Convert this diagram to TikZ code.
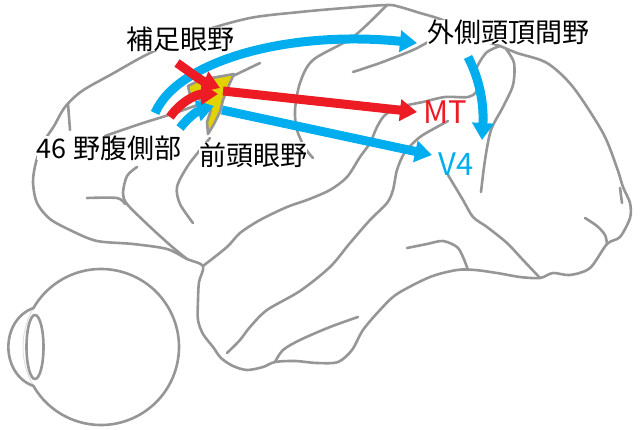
\documentclass[tikz,border=0pt]{standalone}
\usepackage{fontspec}
\setmainfont{Noto Sans CJK JP}
\usetikzlibrary{arrows.meta}
\definecolor{sulcusgray}{RGB}{150, 150, 150}
\definecolor{fiberblue}{RGB}{0, 174, 239}
\definecolor{fiberred}{RGB}{237, 28, 36}
\definecolor{fefyellow}{RGB}{226, 210, 0}
\tikzset{
  outline/.style={sulcusgray, line width=2.6pt, line cap=round, line join=round},
  bluefiber/.style={fiberblue, line width=9pt, -{Triangle[width=21pt, length=17pt]}},
  redfiber/.style={fiberred, line width=9pt, -{Triangle[width=21pt, length=17pt]}},
  area/.style={fill=white, inner sep=0pt, font=\fontsize{27}{32}\selectfont},
  visual/.style={inner sep=0pt, font=\fontsize{31}{36}\selectfont},
}
\begin{document}
\begin{tikzpicture}[x=1pt, y=-1pt]
            \useasboundingbox (0,0) rectangle (640,430);
            % Brain contour
            \draw[outline] plot[smooth cycle] coordinates {
                (500,46) (485,41) (462,29) (440,19) (420,13) (400,7) (387,5) (345,8) (300,12)
                (250,18) (200,32) (150,53) (112,74) (82,91) (65,107) (54,126) (43,143) (36,162)
                (33,182) (37,203) (50,219) (72,231) (97,241) (133,244) (167,249) (187,259)
                (203,266) (199,282) (198,300) (198,320) (203,334) (213,347) (221,358) (233,366)
                (247,370) (263,367) (275,362) (295,361) (317,363) (338,362) (352,350) (363,330)
                (380,310) (397,294) (430,277) (457,270) (475,270) (497,273) (520,277) (540,278)
                (553,273) (570,275) (590,268) (607,244) (620,237) (630,218) (630,203) (623,187)
                (617,168) (603,133) (573,87) (547,63) (517,53)};
            % Sulci
            \draw[outline] plot[smooth] coordinates {(203,266) (227,247) (240,233) (260,220) (287,207)
                (307,200) (330,190) (347,177) (360,157) (370,143) (377,127) (385,115) (400,107)
                (423,102) (445,97) (468,97) (477,90) (475,72) (486,53) (500,46)};
            \draw[outline] plot[smooth] coordinates {(506,49) (514,63) (513,85) (503,107) (491,130)
                (485,160) (481,192)};
            \draw[outline] plot[smooth] coordinates {(227,353) (240,340) (250,327) (267,310) (300,291)
                (330,267) (350,243) (370,220) (387,203) (393,190) (397,170) (405,152) (420,137)
                (437,127) (448,121)};
            \draw[outline] plot[smooth] coordinates {(275,362) (283,350) (300,340) (330,327) (358,317)};
            \draw[outline] plot[smooth] coordinates {(407,248) (427,244) (443,241) (457,247) (463,257) (468,270)};
            \draw[outline] plot[smooth] coordinates {(448,175) (463,200) (473,217) (487,227) (507,243)
                (523,260) (540,278)};
            \draw[outline] plot[smooth] coordinates {(585,218) (597,226) (605,235) (607,244)};
            \draw[outline] (620,188) -- (622,203);
            \draw[outline] plot[smooth] coordinates {(387,5) (353,37) (313,60) (300,83) (295,110)
                (297,130) (305,148) (313,158)};
            \draw[outline] plot[smooth] coordinates {(353,72) (380,63) (413,50) (428,42)};
            \draw[outline] (260,63) -- (233,76);
            \draw[outline] plot[smooth] coordinates {(105,136) (140,124) (175,113) (200,104)};
            \draw[outline] (68,104) -- (70,130);
            \draw[outline] plot[smooth] coordinates {(137,167) (127,176) (123,193) (127,204) (147,224)
                (170,245) (187,259)};
            \draw[outline] plot[smooth] coordinates {(87,198) (117,198) (125,204)};
            \draw[outline] plot[smooth] coordinates {(210,138) (200,150) (187,167) (177,187) (180,204) (193,223)};
            % Frontal eye field
            \filldraw[outline, fill=fefyellow] (188,86) -- (200,80) -- (234,74) -- (229,85) -- (223,100)
                -- (220,112) -- (214,124) -- (208,134) -- (207,122) -- (211,110) -- (200,100) -- (190,95) -- cycle;
            % Eye
            \draw[sulcusgray!30, line width=1pt] (101,347) ++(150:78) arc[start angle=150, end angle=210, radius=78];
            \draw[outline] (101,347) ++(150:78) arc[start angle=150, end angle=-150, radius=78];
            \draw[outline] (33.5,308) .. controls (0,320) and (0,374) .. (33.5,386);
            \draw[outline] (35,347) ellipse[x radius=8.5, y radius=32];
            % Labels
            \node[area]                 (sef)   at (180,39)  {補足眼野};
            \node[area]                 (vlpfc) at (109,148) {46 野腹側部};
            \node[area]                 (fef)   at (253,155) {前頭眼野};
            \node[area]                 (lip)   at (508,32)  {外側頭頂間野};
            \node[visual, fiberred]     (mt)    at (445,112) {MT};
            \node[visual, fiberblue]    (vfour) at (456,164) {V4};
            % Projections
            \coordinate (fefLip) at (155,113);
            \coordinate (lipIn)  at (417,43);
            \coordinate (vlIn)   at (180,128);
            \coordinate (vlTip)  at (214,106);
            \coordinate (fefV4)  at (222,110);
            \coordinate (v4In)   at (432,155);
            \coordinate (lipOut) at (468,57);
            \coordinate (lipV4)  at (482,140);
            \coordinate (sefOut) at (177,63);
            \coordinate (sefTip) at (220,88);
            \coordinate (vlRed)  at (170,117);
            \coordinate (vlRedT) at (218,94);
            \coordinate (fefMT)  at (223,91);
            \coordinate (mtIn)   at (417,112);
            \draw[bluefiber] (fefLip) .. controls (178,60) and (290,30) .. (lipIn);
            \draw[bluefiber] (vlIn)   .. controls (190,115) and (200,110) .. (vlTip);
            \draw[bluefiber] (fefV4)  -- (v4In);
            \draw[bluefiber] (lipOut) .. controls (480,80) and (484,105) .. (lipV4);
            \draw[redfiber]  (sefOut) .. controls (190,72) and (200,80) .. (sefTip);
            \draw[redfiber]  (vlRed)  .. controls (182,100) and (198,94) .. (vlRedT);
            \draw[redfiber]  (fefMT)  -- (mtIn);
\end{tikzpicture}
\end{document}
